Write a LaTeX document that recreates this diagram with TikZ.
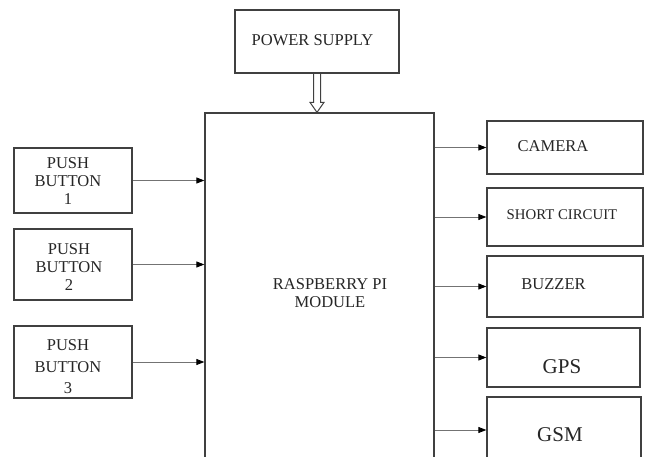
\documentclass[tikz,border=0pt]{standalone}
\usepackage{fontspec}
\setmainfont{Liberation Serif}
\usetikzlibrary{arrows.meta}

\tikzset{
  blk/.style={draw=black!75, line width=1.3pt, fill=white},
  lbl/.style={align=center, text=black!85, inner sep=0pt},
  link/.style={draw=black!55, line width=0.8pt, -{Triangle[length=8pt, width=6pt, fill=black, color=black]}},
}

\begin{document}
\begin{tikzpicture}[x=1pt, y=-1pt, font=\fontsize{16.5}{18}\selectfont]

    \useasboundingbox (0,0) rectangle (646,457);
    \clip (0,0) rectangle (646,457);

    % 1. Nguon va khoi trung tam
    \node[blk, minimum width=164pt, minimum height=63pt] (ps) at (317, 41.5) {};
    \node[lbl] (pstxt) at (312.5, 40) {POWER SUPPLY};
    \node[blk, minimum width=229pt, minimum height=357pt] (rpi) at (319.5, 291.5) {};
    \node[lbl] (rpitxt) at (330, 293) {RASPBERRY PI\\MODULE};

    % Mui ten kep (rong ruot) tu nguon xuong
    \coordinate (pin) at (ps.south |- rpi.north);
    \draw[black!75, line width=1pt, line join=miter]
        ([xshift=-3.5pt]ps.south) -- ([xshift=-3.5pt, yshift=10pt]pin) -- ([xshift=-7pt, yshift=10pt]pin)
        -- (pin) -- ([xshift=7pt, yshift=10pt]pin) -- ([xshift=3.5pt, yshift=10pt]pin) -- ([xshift=3.5pt]ps.south);

    % 2. Cac nut nhan ben trai
    \node[blk, minimum width=118pt, minimum height=65pt] (pb1) at (73, 180.5) {};
    \node[lbl] (pb1txt) at (68, 181.5) {PUSH\\BUTTON\\1};
    \node[blk, minimum width=118pt, minimum height=71pt] (pb2) at (73, 264.5) {};
    \node[lbl] (pb2txt) at (69, 267.5) {PUSH\\BUTTON\\2};
    \node[blk, minimum width=118pt, minimum height=72pt] (pb3) at (73, 362) {};
    \node[lbl, font=\fontsize{16.5}{21.5}\selectfont] (pb3txt) at (68, 367) {PUSH\\BUTTON\\3};

    \draw[link] (pb1.east) -- (pb1.east -| rpi.west);
    \draw[link] (pb2.east) -- (pb2.east -| rpi.west);
    \draw[link] (pb3.east) -- (pb3.east -| rpi.west);

    % 3. Cac khoi dau ra ben phai
    \node[blk, minimum width=156pt, minimum height=53pt] (cam) at (565, 147.5) {};
    \node[lbl] (camtxt) at (553, 146) {CAMERA};
    \node[blk, minimum width=156pt, minimum height=58pt] (sc) at (565, 217) {};
    \node[lbl, font=\fontsize{14.8}{16}\selectfont] (sctxt) at (562, 214.5) {SHORT CIRCUIT};
    \node[blk, minimum width=156pt, minimum height=61pt] (buz) at (565, 286.5) {};
    \node[lbl] (buztxt) at (553.5, 284) {BUZZER};
    \node[blk, minimum width=153pt, minimum height=59pt] (gps) at (563.5, 357.5) {};
    \node[lbl, font=\fontsize{21}{22}\selectfont] (gpstxt) at (562, 367) {GPS};
    \node[blk, minimum width=154pt, minimum height=66pt] (gsm) at (564, 430) {};
    \node[lbl, font=\fontsize{21}{22}\selectfont] (gsmtxt) at (560, 435) {GSM};

    \draw[link] (rpi.east |- cam.west) -- (cam.west);
    \draw[link] (rpi.east |- sc.west) -- (sc.west);
    \draw[link] (rpi.east |- buz.west) -- (buz.west);
    \draw[link] (rpi.east |- gps.west) -- (gps.west);
    \draw[link] (rpi.east |- gsm.west) -- (gsm.west);

\end{tikzpicture}
\end{document}
